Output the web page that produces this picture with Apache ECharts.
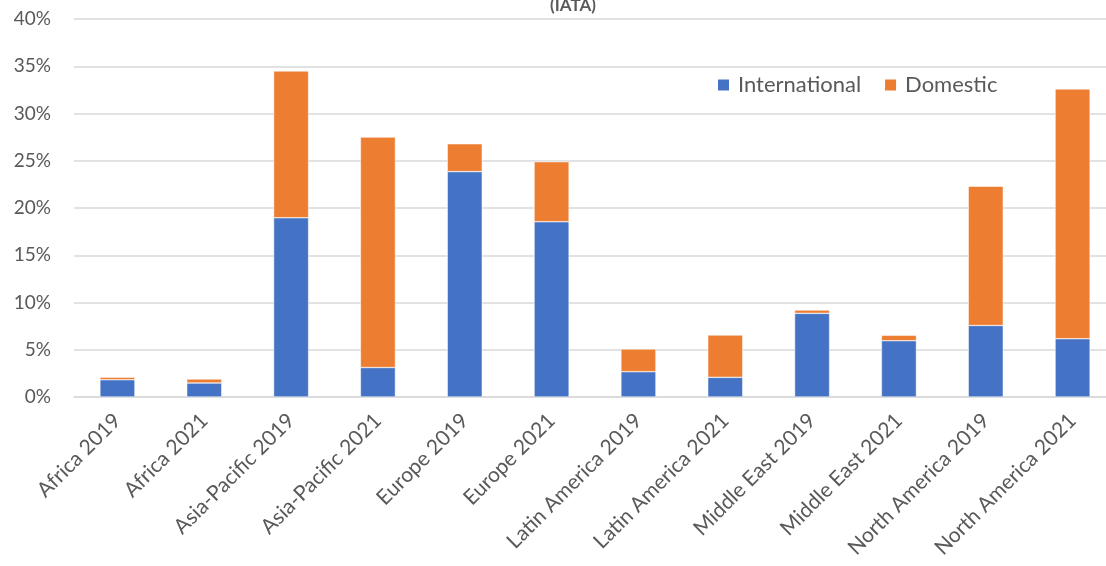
<!DOCTYPE html>
<html>
<head>
<meta charset="utf-8">
<script src="https://cdn.jsdelivr.net/npm/echarts@6/dist/echarts.min.js"></script>
<style>
  html, body { margin: 0; padding: 0; background: #fff; }
  #main { width: 1106px; height: 566px; }
</style>
</head>
<body>
<div id="main"></div>
<script>
// regions and shares of passenger traffic (%)
const categories = [
  "Africa 2019", "Africa 2021", "Asia-Pacific 2019", "Asia-Pacific 2021",
  "Europe 2019", "Europe 2021", "Latin America 2019", "Latin America 2021",
  "Middle East 2019", "Middle East 2021", "North America 2019", "North America 2021"
];
const international = [1.83, 1.48, 18.97, 3.12, 23.85, 18.55, 2.68, 2.08, 8.85, 5.96, 7.57, 6.17];
const domestic = [0.27, 0.42, 15.53, 24.38, 2.95, 6.35, 2.4, 4.48, 0.35, 0.57, 14.73, 26.43];
const yTicks = [0, 5, 10, 15, 20, 25, 30, 35, 40];

var myChart = echarts.init(document.getElementById("main"));
const fontFam = "Lato, 'Open Sans', sans-serif";

myChart.setOption({
  animation: false,
  textStyle: { fontFamily: fontFam },
  title: {
    text: "(IATA)",
    left: 568,
    top: -8,
    textAlign: "center",
    textStyle: { fontSize: 17, fontWeight: "bold", color: "#595959", fontFamily: fontFam }
  },
  legend: {
    data: ["International", "Domestic"],
    left: 711,
    top: 69,
    itemWidth: 13,
    itemHeight: 13,
    itemGap: 22,
    icon: "rect",
    textStyle: { fontSize: 22, color: "#595959", fontFamily: fontFam, padding: [0, 0, 0, 3] }
  },
  grid: {
    left: 74,
    top: 19,
    width: 1042,
    height: 378,
    containLabel: false,
    outerBoundsMode: "none"
  },
  xAxis: {
    type: "category",
    data: categories,
    axisLine: { lineStyle: { color: "#d9d9d9", width: 1.5 } },
    axisTick: { show: false },
    axisLabel: {
      rotate: 45,
      interval: 0,
      margin: 20,
      fontSize: 21,
      color: "#595959",
      fontFamily: fontFam
    }
  },
  yAxis: {
    type: "value",
    min: yTicks[0],
    max: yTicks[yTicks.length - 1],
    interval: 5,
    axisLine: { show: false },
    axisTick: { show: false },
    splitLine: { lineStyle: { color: "#d9d9d9", width: 1.5 } },
    axisLabel: {
      formatter: "{value}%",
      margin: 23,
      fontSize: 19,
      color: "#595959",
      fontFamily: fontFam
    }
  },
  series: [
    {
      name: "International",
      type: "bar",
      stack: "total",
      data: international,
      barWidth: 35,
      itemStyle: { color: "#4472C4", borderColor: "#ffffff", borderWidth: 0.5 }
    },
    {
      name: "Domestic",
      type: "bar",
      stack: "total",
      data: domestic,
      barWidth: 35,
      itemStyle: { color: "#ED7D31", borderColor: "#ffffff", borderWidth: 0.5 }
    }
  ]
});
</script>
</body>
</html>
